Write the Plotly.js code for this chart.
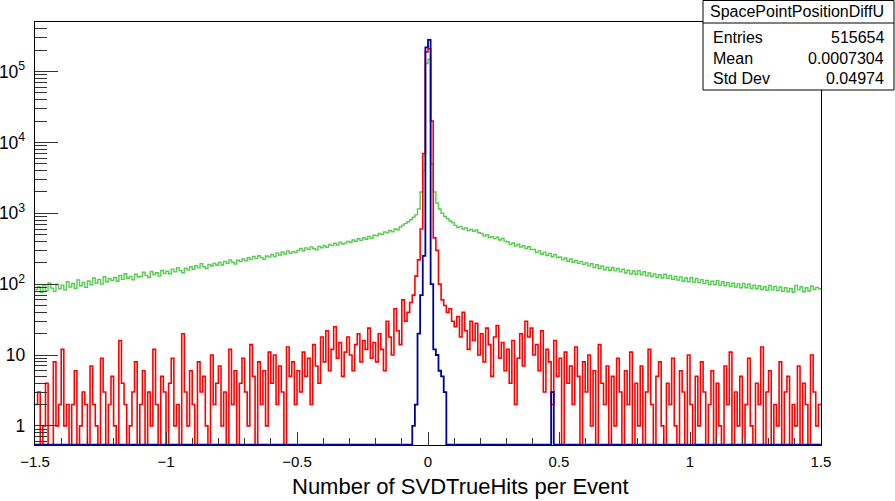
<!DOCTYPE html>
<html><head><meta charset="utf-8">
<script src="https://cdn.plot.ly/plotly-3.0.1.min.js"></script>
<style>html,body{margin:0;padding:0;background:#fff;}#chart{width:895px;height:501px;}</style>
</head><body><div id="chart"></div>
<script>
// Histogram binning: 300 bins of width 0.01 from -1.5 to 1.5
const xMin = -1.5;
const binWidth = 0.01;

// Green series (counts per bin, left to right)
const greenCounts = [
  84, 92, 76, 98, 81, 104, 88, 79, 100, 86,
  97, 83, 108, 91, 102, 87, 115, 95, 106, 90,
  111, 98, 122, 104, 117, 100, 127, 108, 120, 113,
  124, 110, 133, 117, 140, 121, 129, 115, 138, 126,
  128, 147, 133, 124, 151, 137, 145, 130, 156, 141,
  152, 140, 163, 149, 171, 155, 145, 168, 158, 176,
  162, 182, 170, 195, 176, 166, 190, 180, 198, 185,
  203, 186, 210, 197, 220, 204, 193, 218, 208, 226,
  214, 236, 222, 246, 229, 252, 238, 224, 250, 241,
  262, 245, 276, 258, 284, 266, 295, 272, 288, 280,
  300, 318, 296, 325, 310, 336, 318, 305, 340, 326,
  348, 330, 362, 350, 378, 355, 392, 368, 380, 402,
  390, 420, 402, 438, 415, 452, 430, 472, 445, 490,
  480, 520, 505, 545, 530, 572, 550, 600, 585, 640,
  680, 720, 760, 810, 880, 950, 1150, 2000, 4000, 130000,
  150000, 5000, 2000, 1400, 1150, 1000, 900, 840, 780, 740,
  675, 627, 655, 600, 622, 570, 594, 556, 580, 532,
  518, 477, 500, 455, 468, 439, 459, 419, 441, 405,
  393, 361, 381, 344, 366, 333, 350, 319, 338, 308,
  308, 279, 295, 264, 283, 254, 272, 244, 261, 238,
  242, 220, 234, 210, 227, 204, 216, 197, 210, 190,
  200, 181, 194, 172, 188, 166, 181, 160, 174, 157,
  172, 154, 166, 149, 162, 144, 157, 139, 153, 138,
  155, 136, 150, 131, 144, 129, 139, 124, 136, 122,
  138, 120, 133, 117, 129, 114, 126, 110, 122, 108,
  123, 107, 120, 105, 116, 102, 113, 99, 110, 98,
  112, 97, 108, 95, 105, 93, 103, 91, 101, 89,
  102, 89, 100, 87, 97, 86, 95, 84, 92, 82,
  96, 83, 93, 81, 91, 79, 89, 78, 87, 77,
  96, 83, 92, 78, 89, 80, 94, 84, 90, 86
];

// Red series
const redCounts = [
  2, 3, 0, 1, 4, 0, 0, 8, 1, 2,
  12, 1, 2, 0, 2, 6, 0, 1, 3, 2,
  0, 7, 2, 1, 0, 9, 3, 0, 2, 5,
  1, 0, 16, 4, 2, 0, 1, 3, 8, 0,
  2, 6, 0, 3, 1, 12, 2, 0, 5, 3,
  0, 4, 9, 1, 2, 0, 20, 3, 1, 6,
  2, 0, 8, 3, 5, 1, 0, 10, 2, 4,
  7, 1, 3, 0, 12, 2, 6, 0, 4, 9,
  3, 1, 14, 5, 0, 8, 2, 6, 1, 11,
  4, 10, 2, 7, 3, 0, 13, 5, 8, 2,
  6, 3, 11, 5, 9, 2, 14, 7, 4, 18,
  8, 22, 6, 12, 25, 9, 15, 5, 11, 18,
  10, 6, 14, 20, 8, 16, 12, 24, 9, 15,
  8, 20, 12, 6, 30, 18, 10, 45, 22, 14,
  60, 30, 40, 55, 70, 130, 220, 600, 7000, 190000,
  210000, 20000, 450, 300, 100, 60, 50, 40, 45, 30,
  25, 35, 18, 40, 22, 12, 30, 16, 28, 10,
  20, 8, 24, 14, 5, 18, 26, 9, 15, 6,
  12, 4, 16, 2, 9, 20, 7, 30, 18, 24,
  10, 14, 6, 22, 3, 12, 8, 2, 16, 5,
  9, 0, 11, 4, 7, 2, 13, 5, 0, 8,
  3, 10, 1, 6, 0, 14, 4, 2, 7, 0,
  5, 1, 9, 3, 0, 6, 2, 11, 0, 4,
  1, 7, 0, 3, 12, 2, 0, 5, 8, 1,
  0, 4, 2, 9, 1, 0, 6, 3, 0, 10,
  2, 0, 5, 1, 8, 3, 0, 2, 6, 0,
  4, 1, 0, 7, 2, 11, 0, 3, 1, 5,
  0, 2, 9, 1, 0, 4, 2, 13, 0, 3,
  6, 0, 2, 1, 8, 0, 3, 5, 0, 2,
  1, 7, 0, 4, 2, 0, 10, 3, 1, 2
];

// Blue series: nonzero bins (bin index relative to x=0) and their counts
const blueBins   = [-6, -5, -4, -3, -2, -1, 0, 1, 2, 3, 4, 5, 6, 47];
const blueCounts = [1, 2, 20, 70, 250, 220000, 280000, 100, 12, 10, 6, 5, 3, 3];

// Stats box
const statTitle = 'SpacePointPositionDiffU';
const statLabels = ['Entries', 'Mean', 'Std Dev'];
const statValues = ['515654', '0.0007304', '0.04974'];

const xTitle = 'Number of SVDTrueHits per Event';

// ---------- drawing ----------
const nBins = greenCounts.length;
const yLogMin = -0.27, yLogMax = 5.70;
const floorVal = Math.pow(10, yLogMin + 0.004);

const blueFull = new Array(nBins).fill(0);
blueBins.forEach((b, i) => { blueFull[b + nBins / 2] = blueCounts[i]; });

function stepTrace(counts, color, width) {
  const xs = [], ys = [];
  for (let k = 0; k <= nBins; k++) {
    xs.push(xMin + k * binWidth);
    const v = counts[Math.min(k, nBins - 1)];
    ys.push(v > 0 ? v : floorVal);
  }
  return {x: xs, y: ys, type: 'scatter', mode: 'lines',
          line: {shape: 'hv', color: color, width: width}, hoverinfo: 'skip', showlegend: false};
}

const W = 895, H = 501;
const M = {l: 35, r: 74, t: 22, b: 56};
const PW = W - M.l - M.r, PH = H - M.t - M.b;
const px = v => (v - M.l) / PW;
const py = v => (H - M.b - v) / PH;

const font = 'Liberation Sans, Arial, Helvetica, sans-serif';

const shapes = [
  {type: 'rect', xref: 'paper', yref: 'paper', x0: px(703), x1: px(894), y0: py(90), y1: py(0.5),
   fillcolor: '#ffffff', line: {color: '#000', width: 1}, layer: 'above'},
  {type: 'line', xref: 'paper', yref: 'paper', x0: px(703), x1: px(894), y0: py(23), y1: py(23),
   line: {color: '#000', width: 1}, layer: 'above'}
];

const annotations = [
  {xref: 'paper', yref: 'paper', x: px(797), y: py(12), text: statTitle, showarrow: false,
   xanchor: 'center', yanchor: 'middle', font: {family: font, size: 16, color: '#000'}},
  {xref: 'paper', yref: 'paper', x: px(460), y: py(487), text: xTitle, showarrow: false,
   xanchor: 'center', yanchor: 'middle', font: {family: font, size: 22, color: '#000'}}
];
statLabels.forEach((lab, i) => {
  const yy = py(37 + 21 * i);
  annotations.push({xref: 'paper', yref: 'paper', x: px(711), y: yy, text: lab, showarrow: false,
    xanchor: 'left', yanchor: 'middle', font: {family: font, size: 16, color: '#000'}});
  annotations.push({xref: 'paper', yref: 'paper', x: px(886), y: yy, text: statValues[i], showarrow: false,
    xanchor: 'right', yanchor: 'middle', font: {family: font, size: 16, color: '#000'}});
});

const layout = {
  width: W, height: H,
  margin: M,
  paper_bgcolor: '#fff', plot_bgcolor: '#fff',
  font: {family: font, size: 15, color: '#000'},
  showlegend: false,
  xaxis: {
    range: [-1.5, 1.5], dtick: 0.5, tick0: 0, showgrid: false, zeroline: false,
    ticks: 'inside', ticklen: 13, tickcolor: '#333', tickwidth: 1,
    minor: {dtick: 0.1, tick0: 0, ticks: 'inside', ticklen: 7, tickcolor: '#333', showgrid: false},
    showline: true, mirror: true, linecolor: '#000', linewidth: 1,
    tickfont: {family: font, size: 15}, ticklabelstandoff: 3
  },
  yaxis: {
    type: 'log', range: [yLogMin, yLogMax], dtick: 1, exponentformat: 'power',
    showgrid: false, zeroline: false,
    ticks: 'inside', ticklen: 23, tickcolor: '#333', tickwidth: 1,
    minor: {ticks: 'inside', ticklen: 12, tickcolor: '#333', showgrid: false},
    showline: true, mirror: true, linecolor: '#000', linewidth: 1,
    tickfont: {family: font, size: 14}, ticklabelstandoff: 6
  },
  shapes: shapes,
  annotations: annotations
};

const data = [
  stepTrace(greenCounts, '#55cc4e', 1.4),
  stepTrace(redCounts, '#ff0000', 1.6),
  stepTrace(blueFull, '#00009c', 1.8)
];

Plotly.newPlot('chart', data, layout, {staticPlot: true, displayModeBar: false});
</script>
</body></html>
